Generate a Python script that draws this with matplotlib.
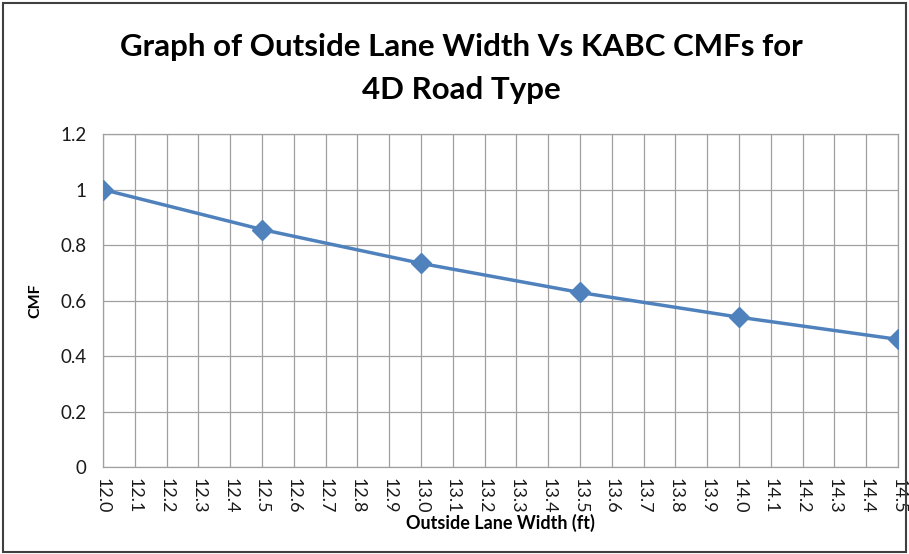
import matplotlib
matplotlib.use("Agg")
import matplotlib.pyplot as plt
import numpy as np
from matplotlib.patches import Rectangle

# datos
ancho = [12.0, 12.5, 13.0, 13.5, 14.0, 14.5]
cmf = [1.0, 0.856, 0.734, 0.629, 0.540, 0.460]
ticks_x = np.round(np.arange(12.0, 14.51, 0.1), 1)
ticks_y = [0, 0.2, 0.4, 0.6, 0.8, 1.0, 1.2]
etiquetas_y = ["0", "0.2", "0.4", "0.6", "0.8", "1", "1.2"]

plt.rcParams['font.family'] = ['Lato', 'DejaVu Sans']

fig = plt.figure(figsize=(9.09, 5.54), dpi=100)
ax = fig.add_axes([0.1133, 0.157, 0.8747, 0.601])

gris = '#A0A0A0'
ax.plot(ancho, cmf, color='#4F81BD', linewidth=2.5, marker='D', markersize=10.5,
        markerfacecolor='#4F81BD', markeredgecolor='#4F81BD', zorder=3)

ax.set_xlim(12.0, 14.5)
ax.set_ylim(0, 1.2)
ax.set_xticks(ticks_x)
ax.set_xticklabels([f"{t:.1f}" for t in ticks_x], rotation=-90, fontsize=13, color='#1a1a1a')
ax.set_yticks(ticks_y)
ax.set_yticklabels(etiquetas_y, fontsize=13.5, color='#1a1a1a')
ax.tick_params(axis='both', length=0)
ax.tick_params(axis='y', pad=12)
ax.tick_params(axis='x', pad=8)
ax.grid(True, color=gris, linewidth=0.9)
ax.set_axisbelow(True)
for s in ax.spines.values():
    s.set_color(gris)
    s.set_linewidth(0.9)

ax.set_ylabel("CMF", fontsize=11.5, fontweight='bold', labelpad=13)
fig.text(0.55, 1 - 523 / 554, "Outside Lane Width (ft)", fontsize=13,
         fontweight='bold', ha='center', va='center')

fig.text(0.508, 1 - 47 / 554, "Graph of Outside Lane Width Vs KABC CMFs for",
         fontsize=22.5, fontweight='bold', ha='center', va='center')
fig.text(0.508, 1 - 90 / 554, "4D Road Type",
         fontsize=22.5, fontweight='bold', ha='center', va='center')

fig.patches.append(Rectangle((0.003, 0.003), 0.994, 0.992, transform=fig.transFigure,
                             fill=False, edgecolor='#404040', linewidth=1.5))

fig.savefig("out.png", dpi=100)
